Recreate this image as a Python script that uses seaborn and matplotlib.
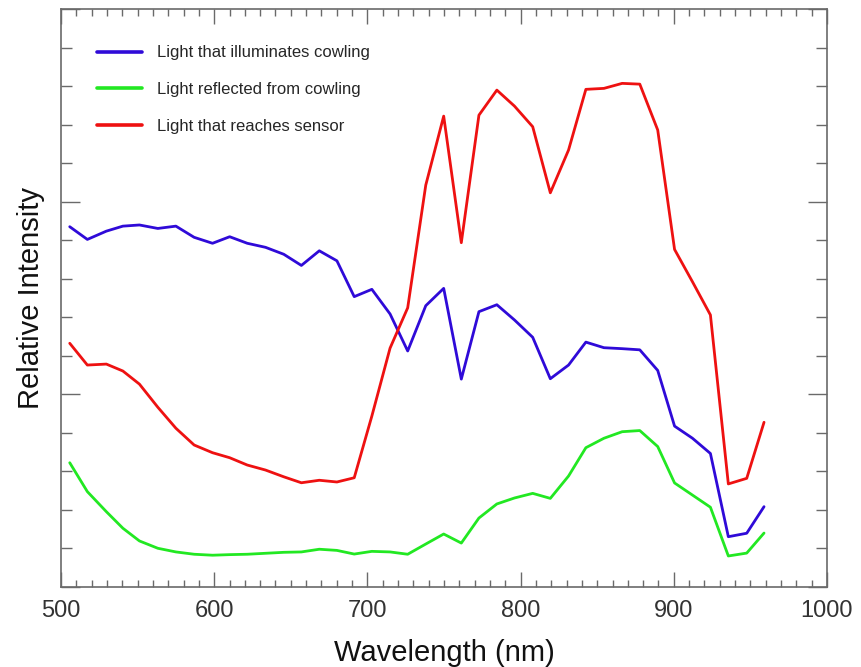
import numpy as np
import pandas as pd
import matplotlib
matplotlib.use("Agg")
import matplotlib.pyplot as plt
import seaborn as sns
from matplotlib.ticker import MultipleLocator, NullFormatter

wavelength = [505.7, 517.2, 529.6, 540.4, 551.2, 563.2, 575.0, 586.9, 598.9, 610.1,
              621.6, 633.5, 645.4, 656.9, 668.6, 680.1, 691.4, 702.9, 714.8, 726.3,
              738.1, 749.8, 761.3, 772.8, 784.5, 796.0, 807.9, 819.4, 831.3, 842.6,
              854.4, 866.3, 877.8, 889.5, 900.5, 912.2, 923.9, 935.6, 947.6, 958.9]

illuminates = [1.870, 1.804, 1.847, 1.873, 1.879, 1.861, 1.873, 1.815, 1.784, 1.818,
               1.784, 1.763, 1.727, 1.669, 1.745, 1.693, 1.507, 1.545, 1.417, 1.225,
               1.460, 1.550, 1.079, 1.429, 1.465, 1.386, 1.296, 1.081, 1.152, 1.271,
               1.242, 1.237, 1.231, 1.124, 0.835, 0.772, 0.693, 0.261, 0.279, 0.417]

reflected = [0.645, 0.495, 0.391, 0.305, 0.239, 0.201, 0.182, 0.170, 0.165, 0.168,
             0.170, 0.175, 0.180, 0.182, 0.196, 0.190, 0.171, 0.185, 0.182, 0.170,
             0.223, 0.275, 0.228, 0.358, 0.431, 0.462, 0.486, 0.460, 0.576, 0.723,
             0.772, 0.806, 0.812, 0.729, 0.540, 0.477, 0.414, 0.161, 0.176, 0.280]

sensor = [1.265, 1.152, 1.157, 1.121, 1.053, 0.933, 0.824, 0.737, 0.697, 0.671,
          0.633, 0.607, 0.572, 0.541, 0.554, 0.545, 0.567, 0.887, 1.240, 1.449,
          2.086, 2.444, 1.787, 2.449, 2.579, 2.496, 2.389, 2.046, 2.268, 2.583,
          2.588, 2.614, 2.610, 2.372, 1.752, 1.584, 1.412, 0.535, 0.564, 0.855]

series_names = ["Light that illuminates cowling",
                "Light reflected from cowling",
                "Light that reaches sensor"]
series_colors = ["#2f0ad8", "#22e822", "#ee1111"]
x_ticks = [500, 600, 700, 800, 900, 1000]

df = pd.concat([
    pd.DataFrame({"Wavelength": wavelength, "Intensity": vals, "Series": name})
    for name, vals in zip(series_names, [illuminates, reflected, sensor])
], ignore_index=True)

sns.set_theme(style="white")
plt.rcParams["font.family"] = ["Liberation Sans", "DejaVu Sans"]

fig = plt.figure(figsize=(8.61, 6.67), dpi=100)
ax = fig.add_axes([61/861, 1-587/667, (827-61)/861, (587-9)/667])

sns.lineplot(data=df, x="Wavelength", y="Intensity", hue="Series",
             hue_order=series_names, palette=series_colors, linewidth=2.0,
             sort=False, ax=ax)

ax.set_xlim(500, 1000)
ax.set_ylim(0, 3)
ax.set_xticks(x_ticks)
ax.set_xticklabels([str(t) for t in x_ticks])
ax.xaxis.set_minor_locator(MultipleLocator(10))
ax.yaxis.set_major_locator(MultipleLocator(1))
ax.yaxis.set_minor_locator(MultipleLocator(0.2))
ax.yaxis.set_major_formatter(NullFormatter())

for s in ax.spines.values():
    s.set_color("#6a6a6a")
    s.set_linewidth(1.2)
ax.tick_params(which="both", direction="in", top=True, right=True,
               left=True, bottom=True, color="#6a6a6a", width=1.0)
ax.tick_params(which="major", axis="x", length=11, labelsize=17, pad=9.5,
               labelcolor="#333333")
ax.tick_params(which="minor", axis="x", length=5)
ax.tick_params(which="major", axis="y", length=14)
ax.tick_params(which="minor", axis="y", length=8)

ax.set_xlabel("Wavelength (nm)", fontsize=21, labelpad=12, color="#111111")
ax.set_ylabel("Relative Intensity", fontsize=21, labelpad=8, color="#111111")

leg = ax.legend(loc="upper left", bbox_to_anchor=(0.027, 0.963), frameon=False,
                fontsize=12, handlelength=2.7, handletextpad=0.9,
                labelspacing=1.3)
for line in leg.get_lines():
    line.set_linewidth(2.6)

fig.savefig("out.png", dpi=100)
